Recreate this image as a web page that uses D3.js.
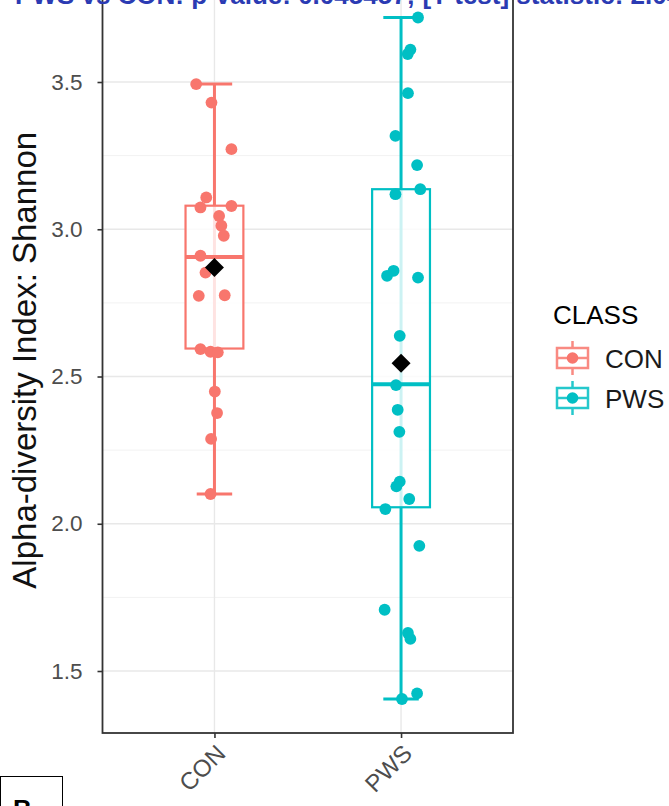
<!DOCTYPE html>
<html>
<head>
<meta charset="utf-8">
<script src="https://cdnjs.cloudflare.com/ajax/libs/d3/7.8.5/d3.min.js"></script>
<style>
  html, body { margin: 0; padding: 0; background: #fff; }
  svg { display: block; }
  text { font-family: "Liberation Sans", Arial, sans-serif; }
</style>
</head>
<body>
<svg id="chart" width="669" height="806"></svg>
<script>
// Groups and their colours
const categories = ["CON", "PWS"];
const groupColors = ["#F8766D", "#00BFC4"];

// Shannon index per sample, with horizontal jitter (in category units)
const conValues = [3.493, 3.430, 3.272, 3.108, 3.074, 3.079, 3.045, 3.012, 2.978, 2.910,
                   2.853, 2.774, 2.776, 2.593, 2.584, 2.582, 2.449, 2.376, 2.288, 2.101];
const conJitter = [-0.098, -0.016, 0.091, -0.044, -0.075, 0.091, 0.025, 0.037, 0.050, -0.075,
                   -0.048, -0.084, 0.055, -0.075, -0.021, 0.018, 0.002, 0.014, -0.018, -0.021];
const pwsValues = [3.719, 3.610, 3.595, 3.462, 3.317, 3.218, 3.136, 3.119, 2.859, 2.842,
                   2.836, 2.638, 2.471, 2.387, 2.312, 2.143, 2.127, 2.084, 2.050, 1.925,
                   1.708, 1.629, 1.609, 1.424, 1.405];
const pwsJitter = [0.091, 0.050, 0.036, 0.037, -0.030, 0.086, 0.103, -0.030, -0.040, -0.075,
                   0.091, -0.007, -0.027, -0.018, -0.009, -0.007, -0.025, 0.044, -0.084, 0.098,
                   -0.088, 0.037, 0.050, 0.086, 0.005];

// Box summaries per group (CON, PWS)
const whiskerLow  = [2.101, 1.405];
const quartile1   = [2.595, 2.056];
const medians     = [2.906, 2.474];
const quartile3   = [3.080, 3.136];
const whiskerHigh = [3.493, 3.719];
const means       = [2.870, 2.545];

// Axis ticks
const yTicks = [1.5, 2.0, 2.5, 3.0, 3.5];
const yMinorTicks = [1.75, 2.25, 2.75, 3.25];
const yTickLabels = ["1.5", "2.0", "2.5", "3.0", "3.5"];

const titleText = "PWS vs CON: p-value: 0.045457; [T-test] statistic: 2.0472";
const yTitle = "Alpha-diversity Index: Shannon";
const legendTitle = "CLASS";

const svg = d3.select("#chart");

const panel = { left: 102.5, right: 513, top: -16.5, bottom: 733 };

const x = d3.scalePoint().domain(categories).range([panel.left, panel.right]).padding(0.6);
const step = x.step();
const y = d3.scaleLinear().domain([1.2895, 3.8345]).range([panel.bottom, panel.top]);

// Panel background and grid
const g = svg.append("g");
g.append("rect")
  .attr("x", panel.left).attr("y", panel.top)
  .attr("width", panel.right - panel.left).attr("height", panel.bottom - panel.top)
  .attr("fill", "#fff");

g.selectAll(".minor").data(yMinorTicks).join("line")
  .attr("x1", panel.left).attr("x2", panel.right)
  .attr("y1", d => y(d)).attr("y2", d => y(d))
  .attr("stroke", "#f2f2f2").attr("stroke-width", 1);
g.selectAll(".major").data(yTicks).join("line")
  .attr("x1", panel.left).attr("x2", panel.right)
  .attr("y1", d => y(d)).attr("y2", d => y(d))
  .attr("stroke", "#e8e8e8").attr("stroke-width", 1.4);
g.selectAll(".vgrid").data(categories).join("line")
  .attr("x1", d => x(d)).attr("x2", d => x(d))
  .attr("y1", panel.top).attr("y2", panel.bottom)
  .attr("stroke", "#e8e8e8").attr("stroke-width", 1.4);

// Boxplots: whisker line with caps, then box with translucent fill, then median
const boxW = 0.31 * step;
const capW = 0.19 * step;
categories.forEach((c, i) => {
  const cx = x(c);
  const col = groupColors[i];
  g.append("line")
    .attr("x1", cx).attr("x2", cx)
    .attr("y1", y(whiskerLow[i])).attr("y2", y(whiskerHigh[i]))
    .attr("stroke", col).attr("stroke-width", 3);
  [whiskerLow[i], whiskerHigh[i]].forEach(v => {
    g.append("line")
      .attr("x1", cx - capW / 2).attr("x2", cx + capW / 2)
      .attr("y1", y(v)).attr("y2", y(v))
      .attr("stroke", col).attr("stroke-width", 3);
  });
  g.append("rect")
    .attr("x", cx - boxW / 2).attr("y", y(quartile3[i]))
    .attr("width", boxW).attr("height", y(quartile1[i]) - y(quartile3[i]))
    .attr("fill", "#fff").attr("fill-opacity", 0.8)
    .attr("stroke", col).attr("stroke-width", 2.2);
  g.append("line")
    .attr("x1", cx - boxW / 2).attr("x2", cx + boxW / 2)
    .attr("y1", y(medians[i])).attr("y2", y(medians[i]))
    .attr("stroke", col).attr("stroke-width", 4);
});

// Jittered sample points
const groups = [
  { values: conValues, jitter: conJitter },
  { values: pwsValues, jitter: pwsJitter }
];
groups.forEach((grp, i) => {
  g.append("g").selectAll("circle").data(grp.values).join("circle")
    .attr("cx", (d, k) => x(categories[i]) + grp.jitter[k] * step)
    .attr("cy", d => y(d))
    .attr("r", 5.9)
    .attr("fill", groupColors[i]);
});

// Group means as black diamonds
g.selectAll(".mean").data(means).join("path")
  .attr("transform", (d, i) => `translate(${x(categories[i])},${y(d)})`)
  .attr("d", "M0,-9.5L9.5,0L0,9.5L-9.5,0Z")
  .attr("fill", "#000");

// Panel border
g.append("rect")
  .attr("x", panel.left).attr("y", panel.top)
  .attr("width", panel.right - panel.left).attr("height", panel.bottom - panel.top)
  .attr("fill", "none").attr("stroke", "#333").attr("stroke-width", 1.8);

// Y axis
const yAxis = d3.axisLeft(y).tickValues(yTicks).tickFormat((d, i) => yTickLabels[i]).tickSize(5).tickPadding(15);
const ya = svg.append("g").attr("transform", `translate(${panel.left},0)`).call(yAxis);
ya.select(".domain").remove();
ya.selectAll(".tick line").attr("stroke", "#333").attr("stroke-width", 1.6);
ya.selectAll(".tick text").attr("fill", "#4d4d4d").attr("font-size", 22.5)
  .attr("font-family", "Liberation Sans, Arial, sans-serif");

// X axis with rotated labels
const xAxis = d3.axisBottom(x).tickSize(5).tickFormat(d => d);
const xa = svg.append("g").attr("transform", `translate(0,${panel.bottom})`).call(xAxis);
xa.select(".domain").remove();
xa.selectAll(".tick line").attr("stroke", "#333").attr("stroke-width", 1.6);
xa.selectAll(".tick text")
  .attr("fill", "#4d4d4d").attr("font-size", 24)
  .attr("font-family", "Liberation Sans, Arial, sans-serif")
  .attr("text-anchor", "end")
  .attr("dy", null).attr("y", null)
  .attr("transform", "translate(12,22) rotate(-45)");

// Y axis title
svg.append("text")
  .attr("transform", `translate(36,${(panel.top + panel.bottom) / 2 + 2}) rotate(-90)`)
  .attr("text-anchor", "middle")
  .attr("font-size", 33)
  .attr("fill", "#111")
  .text(yTitle);

// Legend
const legend = svg.append("g");
legend.append("text").attr("x", 553).attr("y", 324).attr("font-size", 26).attr("fill", "#000").text(legendTitle);
const keyY = d3.scalePoint().domain(categories).range([358, 398]);
categories.forEach((c, i) => {
  const cy = keyY(c), cx = 572.5, col = groupColors[i];
  const k = legend.append("g").attr("opacity", 0.85);
  k.append("line").attr("x1", cx).attr("x2", cx).attr("y1", cy - 17).attr("y2", cy + 17)
    .attr("stroke", col).attr("stroke-width", 2.5);
  k.append("rect").attr("x", cx - 15.5).attr("y", cy - 10).attr("width", 31).attr("height", 20)
    .attr("fill", "#fff").attr("stroke", col).attr("stroke-width", 2.5);
  k.append("line").attr("x1", cx - 15.5).attr("x2", cx + 15.5).attr("y1", cy).attr("y2", cy)
    .attr("stroke", col).attr("stroke-width", 2.5);
  legend.append("circle").attr("cx", cx).attr("cy", cy).attr("r", 5.8).attr("fill", col);
  legend.append("text").attr("x", 605).attr("y", cy + 9.5).attr("font-size", 26).attr("fill", "#1a1a1a").text(c);
});

// Comparison header
svg.append("text")
  .attr("x", 15).attr("y", 4)
  .attr("font-size", 26).attr("font-weight", "bold")
  .attr("fill", "#2b3bb3")
  .text(titleText);

// Next panel label
svg.append("rect").attr("x", 0.5).attr("y", 776.5).attr("width", 62).attr("height", 40)
  .attr("fill", "#fff").attr("stroke", "#000").attr("stroke-width", 1);
svg.append("text").attr("x", 13).attr("y", 818).attr("font-size", 26).attr("font-weight", "bold")
  .attr("fill", "#000").text("B");
</script>
</body>
</html>
